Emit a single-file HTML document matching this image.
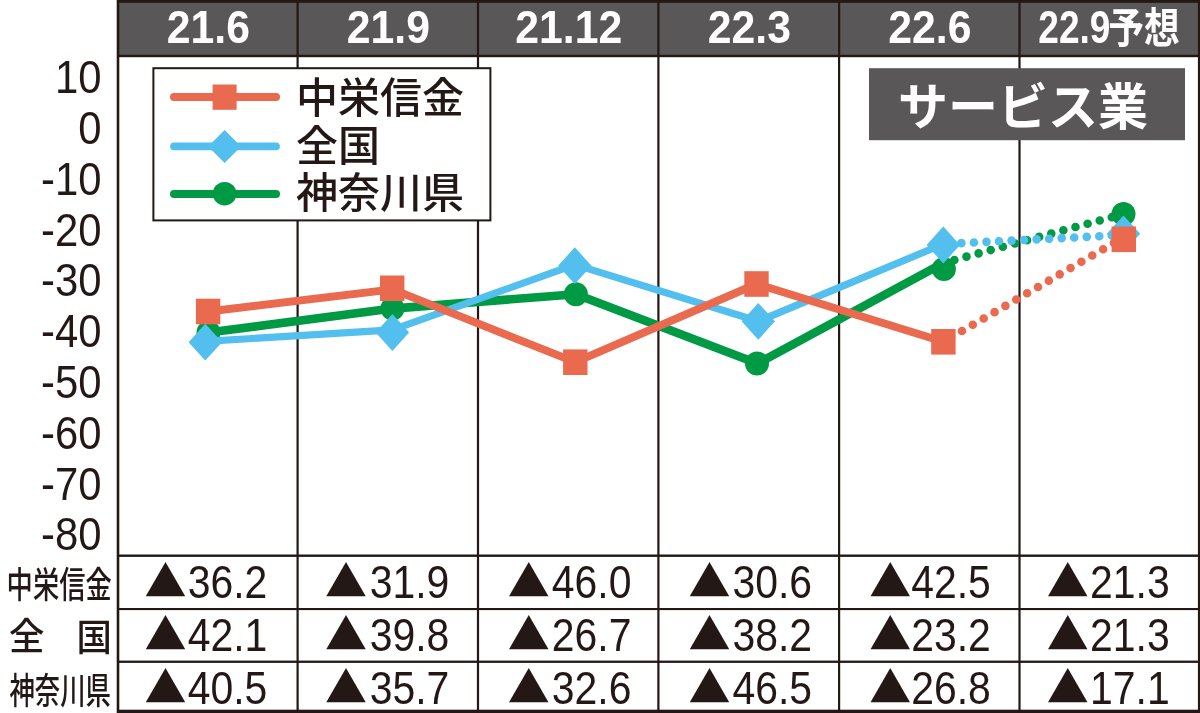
<!DOCTYPE html><html><head><meta charset="utf-8"><style>html,body{margin:0;padding:0;background:#fff;overflow:hidden;width:1200px;height:713px}svg{display:block}.lat{font-family:"Liberation Sans","Noto Sans CJK JP",sans-serif}.jp{font-family:"Liberation Sans","Noto Sans CJK JP",sans-serif}</style></head><body>
<svg width="1200" height="713" viewBox="0 0 1200 713">
<rect width="1200" height="713" fill="#fff"/>
<rect x="117" y="0" width="1083" height="56" fill="#595757"/>
<rect x="117" y="0" width="1083" height="2.8" fill="#231815"/>
<rect x="117" y="54.8" width="1083" height="2.4" fill="#231815"/>
<rect x="116.70" y="0" width="2.6" height="713" fill="#231815"/>
<rect x="296.50" y="0" width="2.2" height="713" fill="#231815"/>
<rect x="476.90" y="0" width="2.2" height="713" fill="#231815"/>
<rect x="657.30" y="0" width="2.2" height="713" fill="#231815"/>
<rect x="838.00" y="0" width="2.2" height="713" fill="#231815"/>
<rect x="1018.40" y="0" width="2.2" height="713" fill="#231815"/>
<rect x="1197.90" y="0" width="2.2" height="713" fill="#231815"/>
<rect x="117" y="554.5" width="1083" height="2.4" fill="#231815"/>
<rect x="117" y="608" width="1083" height="2.1" fill="#231815"/>
<rect x="117" y="660.6" width="1083" height="2.3" fill="#231815"/>
<rect x="117" y="709.7" width="1083" height="3.3" fill="#231815"/>
<text class="lat" x="0" y="0" transform="translate(208.4,43.2) scale(0.94,1)" text-anchor="middle" font-size="45.5" font-weight="bold" fill="#fff">21.6</text>
<text class="lat" x="0" y="0" transform="translate(388.4,43.2) scale(0.94,1)" text-anchor="middle" font-size="45.5" font-weight="bold" fill="#fff">21.9</text>
<text class="lat" x="0" y="0" transform="translate(568.8,43.2) scale(0.94,1)" text-anchor="middle" font-size="45.5" font-weight="bold" fill="#fff">21.12</text>
<text class="lat" x="0" y="0" transform="translate(749.4,43.2) scale(0.94,1)" text-anchor="middle" font-size="45.5" font-weight="bold" fill="#fff">22.3</text>
<text class="lat" x="0" y="0" transform="translate(929.9,43.2) scale(0.94,1)" text-anchor="middle" font-size="45.5" font-weight="bold" fill="#fff">22.6</text>
<text class="lat" x="0" y="0" transform="translate(1110.5,43.2) scale(0.815,1)" text-anchor="end" font-size="45.5" font-weight="bold" fill="#fff">22.9</text>
<text class="jp" x="0" y="0" transform="translate(1108.3,43.3) scale(0.85,1)" font-size="42" font-weight="bold" fill="#fff">予想</text>
<text class="lat" x="0" y="0" transform="translate(101.5,93.4) scale(0.89,1)" text-anchor="end" font-size="47" fill="#231815">10</text>
<text class="lat" x="0" y="0" transform="translate(101.5,144.2) scale(0.89,1)" text-anchor="end" font-size="47" fill="#231815">0</text>
<text class="lat" x="0" y="0" transform="translate(101.5,194.9) scale(0.89,1)" text-anchor="end" font-size="47" fill="#231815">-10</text>
<text class="lat" x="0" y="0" transform="translate(101.5,245.7) scale(0.89,1)" text-anchor="end" font-size="47" fill="#231815">-20</text>
<text class="lat" x="0" y="0" transform="translate(101.5,296.4) scale(0.89,1)" text-anchor="end" font-size="47" fill="#231815">-30</text>
<text class="lat" x="0" y="0" transform="translate(101.5,347.2) scale(0.89,1)" text-anchor="end" font-size="47" fill="#231815">-40</text>
<text class="lat" x="0" y="0" transform="translate(101.5,398.0) scale(0.89,1)" text-anchor="end" font-size="47" fill="#231815">-50</text>
<text class="lat" x="0" y="0" transform="translate(101.5,448.7) scale(0.89,1)" text-anchor="end" font-size="47" fill="#231815">-60</text>
<text class="lat" x="0" y="0" transform="translate(101.5,499.5) scale(0.89,1)" text-anchor="end" font-size="47" fill="#231815">-70</text>
<text class="lat" x="0" y="0" transform="translate(101.5,550.2) scale(0.89,1)" text-anchor="end" font-size="47" fill="#231815">-80</text>
<rect x="153.4" y="68.2" width="337" height="152.2" fill="#fff" stroke="#231815" stroke-width="2"/>
<line x1="174" y1="97.1" x2="276" y2="97.1" stroke="#EA6A4F" stroke-width="8" stroke-linecap="round"/>
<rect x="212.6" y="84.5" width="24" height="25.3" fill="#EA6A4F"/>
<line x1="174" y1="146.3" x2="276" y2="146.3" stroke="#52BFEE" stroke-width="7.8" stroke-linecap="round"/>
<polygon points="224.6,130.1 241.0,146.5 224.6,162.9 208.2,146.5" fill="#52BFEE"/>
<line x1="174" y1="193.9" x2="276" y2="193.9" stroke="#009A44" stroke-width="8" stroke-linecap="round"/>
<circle cx="224.6" cy="193.7" r="11.8" fill="#009A44"/>
<text class="jp" x="296" y="113" font-size="42" font-weight="500" fill="#231815">中栄信金</text>
<text class="jp" x="296" y="161" font-size="42" font-weight="500" fill="#231815">全国</text>
<text class="jp" x="296" y="208" font-size="42" font-weight="500" fill="#231815">神奈川県</text>
<rect x="869" y="68.2" width="316" height="72" fill="#595757"/>
<text class="jp" x="1023" y="124.7" text-anchor="middle" font-size="50" font-weight="bold" fill="#fff">サービス業</text>
<polyline points="208.5,332.5 392.5,308.6 575.9,294.2 757.5,363.6 943.9,262.8" fill="none" stroke="#009A44" stroke-width="8.6" stroke-linejoin="round"/>
<line x1="943.9" y1="262.8" x2="1123.5" y2="214.0" stroke="#009A44" stroke-width="8.6" stroke-linecap="round" stroke-dasharray="0 12.55" stroke-dashoffset="1.68"/>
<circle cx="208.5" cy="332.5" r="12" fill="#009A44"/>
<circle cx="392.5" cy="308.6" r="12" fill="#009A44"/>
<circle cx="575.9" cy="294.2" r="12" fill="#009A44"/>
<circle cx="757.0" cy="363.4" r="12" fill="#009A44"/>
<circle cx="943.9" cy="269.1" r="12" fill="#009A44"/>
<circle cx="1123.5" cy="214.0" r="12" fill="#009A44"/>
<polyline points="205.4,341.4 392.4,329.8 574.8,264.6 758.3,321.3 943.3,244.0" fill="none" stroke="#52BFEE" stroke-width="7.2" stroke-linejoin="round"/>
<line x1="943.3" y1="244.0" x2="1123.5" y2="235.0" stroke="#52BFEE" stroke-width="8.6" stroke-linecap="round" stroke-dasharray="0 12.55" stroke-dashoffset="6.98"/>
<polygon points="205.3,323.8 222.0,342.2 205.3,360.59999999999997 188.60000000000002,342.2" fill="#52BFEE"/>
<polygon points="392.4,314.1 409.09999999999997,332.5 392.4,350.9 375.7,332.5" fill="#52BFEE"/>
<polygon points="574.8,247.29999999999998 591.5,265.7 574.8,284.09999999999997 558.0999999999999,265.7" fill="#52BFEE"/>
<polygon points="758.3,302.90000000000003 775.0,321.3 758.3,339.7 741.5999999999999,321.3" fill="#52BFEE"/>
<polygon points="943.3,226.6 960.0,245.0 943.3,263.4 926.5999999999999,245.0" fill="#52BFEE"/>
<polygon points="1123.5,215.4 1140.2,233.8 1123.5,252.20000000000002 1106.8,233.8" fill="#52BFEE"/>
<polyline points="208.1,311.5 392.6,289.4 575.3,362.2 756.5,284.0 943.4,341.8" fill="none" stroke="#EA6A4F" stroke-width="7.9" stroke-linejoin="round"/>
<line x1="943.4" y1="341.8" x2="1123.8" y2="237.2" stroke="#EA6A4F" stroke-width="8.6" stroke-linecap="round" stroke-dasharray="0 12.55" stroke-dashoffset="3.63"/>
<rect x="195.9" y="298.7" width="24.4" height="25.6" fill="#EA6A4F"/>
<rect x="380.0" y="275.5" width="24.4" height="25.6" fill="#EA6A4F"/>
<rect x="563.1" y="349.4" width="24.4" height="25.6" fill="#EA6A4F"/>
<rect x="744.3" y="271.2" width="24.4" height="25.6" fill="#EA6A4F"/>
<rect x="931.2" y="329.0" width="24.4" height="25.6" fill="#EA6A4F"/>
<rect x="1111.6" y="226.5" width="24.4" height="25.6" fill="#EA6A4F"/>
<text class="jp" x="0" y="0" transform="translate(6.6,597.8) scale(0.718,1)" font-size="36.6" font-weight="500" fill="#231815">中栄信金</text>
<text x="144.6" y="597.4" font-family="Noto Sans CJK JP,sans-serif" font-size="42" fill="#231815">▲</text>
<text class="lat" x="0" y="0" transform="translate(267.3,597.5) scale(0.87,1)" text-anchor="end" font-size="47" fill="#231815">36.2</text>
<text x="324.9" y="597.4" font-family="Noto Sans CJK JP,sans-serif" font-size="42" fill="#231815">▲</text>
<text class="lat" x="0" y="0" transform="translate(449.3,597.5) scale(0.87,1)" text-anchor="end" font-size="47" fill="#231815">31.9</text>
<text x="507.7" y="597.4" font-family="Noto Sans CJK JP,sans-serif" font-size="42" fill="#231815">▲</text>
<text class="lat" x="0" y="0" transform="translate(631.4,597.5) scale(0.87,1)" text-anchor="end" font-size="47" fill="#231815">46.0</text>
<text x="688.5" y="597.4" font-family="Noto Sans CJK JP,sans-serif" font-size="42" fill="#231815">▲</text>
<text class="lat" x="0" y="0" transform="translate(812.0,597.5) scale(0.87,1)" text-anchor="end" font-size="47" fill="#231815">30.6</text>
<text x="869.2" y="597.4" font-family="Noto Sans CJK JP,sans-serif" font-size="42" fill="#231815">▲</text>
<text class="lat" x="0" y="0" transform="translate(990.8,597.5) scale(0.87,1)" text-anchor="end" font-size="47" fill="#231815">42.5</text>
<text x="1046.7" y="597.4" font-family="Noto Sans CJK JP,sans-serif" font-size="42" fill="#231815">▲</text>
<text class="lat" x="0" y="0" transform="translate(1169.7,597.5) scale(0.87,1)" text-anchor="end" font-size="47" fill="#231815">21.3</text>
<text class="jp" x="0" y="0" transform="translate(9.0,650.3) scale(0.95,1)" font-size="37.3" font-weight="500" fill="#231815">全</text>
<text class="jp" x="0" y="0" transform="translate(76.4,650.5) scale(0.95,1)" font-size="37.3" font-weight="500" fill="#231815">国</text>
<text x="144.6" y="650.4" font-family="Noto Sans CJK JP,sans-serif" font-size="42" fill="#231815">▲</text>
<text class="lat" x="0" y="0" transform="translate(267.3,650.5) scale(0.87,1)" text-anchor="end" font-size="47" fill="#231815">42.1</text>
<text x="324.9" y="650.4" font-family="Noto Sans CJK JP,sans-serif" font-size="42" fill="#231815">▲</text>
<text class="lat" x="0" y="0" transform="translate(449.3,650.5) scale(0.87,1)" text-anchor="end" font-size="47" fill="#231815">39.8</text>
<text x="507.7" y="650.4" font-family="Noto Sans CJK JP,sans-serif" font-size="42" fill="#231815">▲</text>
<text class="lat" x="0" y="0" transform="translate(631.4,650.5) scale(0.87,1)" text-anchor="end" font-size="47" fill="#231815">26.7</text>
<text x="688.5" y="650.4" font-family="Noto Sans CJK JP,sans-serif" font-size="42" fill="#231815">▲</text>
<text class="lat" x="0" y="0" transform="translate(812.0,650.5) scale(0.87,1)" text-anchor="end" font-size="47" fill="#231815">38.2</text>
<text x="869.2" y="650.4" font-family="Noto Sans CJK JP,sans-serif" font-size="42" fill="#231815">▲</text>
<text class="lat" x="0" y="0" transform="translate(990.8,650.5) scale(0.87,1)" text-anchor="end" font-size="47" fill="#231815">23.2</text>
<text x="1046.7" y="650.4" font-family="Noto Sans CJK JP,sans-serif" font-size="42" fill="#231815">▲</text>
<text class="lat" x="0" y="0" transform="translate(1169.7,650.5) scale(0.87,1)" text-anchor="end" font-size="47" fill="#231815">21.3</text>
<text class="jp" x="0" y="0" transform="translate(9.4,703.8) scale(0.694,1)" font-size="36.6" font-weight="500" fill="#231815">神奈川県</text>
<text x="144.6" y="703.4" font-family="Noto Sans CJK JP,sans-serif" font-size="42" fill="#231815">▲</text>
<text class="lat" x="0" y="0" transform="translate(267.3,703.5) scale(0.87,1)" text-anchor="end" font-size="47" fill="#231815">40.5</text>
<text x="324.9" y="703.4" font-family="Noto Sans CJK JP,sans-serif" font-size="42" fill="#231815">▲</text>
<text class="lat" x="0" y="0" transform="translate(449.3,703.5) scale(0.87,1)" text-anchor="end" font-size="47" fill="#231815">35.7</text>
<text x="507.7" y="703.4" font-family="Noto Sans CJK JP,sans-serif" font-size="42" fill="#231815">▲</text>
<text class="lat" x="0" y="0" transform="translate(631.4,703.5) scale(0.87,1)" text-anchor="end" font-size="47" fill="#231815">32.6</text>
<text x="688.5" y="703.4" font-family="Noto Sans CJK JP,sans-serif" font-size="42" fill="#231815">▲</text>
<text class="lat" x="0" y="0" transform="translate(812.0,703.5) scale(0.87,1)" text-anchor="end" font-size="47" fill="#231815">46.5</text>
<text x="869.2" y="703.4" font-family="Noto Sans CJK JP,sans-serif" font-size="42" fill="#231815">▲</text>
<text class="lat" x="0" y="0" transform="translate(990.8,703.5) scale(0.87,1)" text-anchor="end" font-size="47" fill="#231815">26.8</text>
<text x="1046.7" y="703.4" font-family="Noto Sans CJK JP,sans-serif" font-size="42" fill="#231815">▲</text>
<text class="lat" x="0" y="0" transform="translate(1169.7,703.5) scale(0.87,1)" text-anchor="end" font-size="47" fill="#231815">17.1</text>
</svg></body></html>
